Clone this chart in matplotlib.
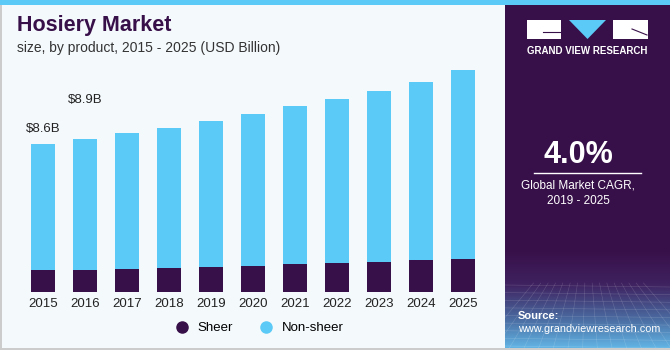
import matplotlib.pyplot as plt
import numpy as np
from matplotlib.patches import Rectangle, Polygon
from matplotlib.lines import Line2D
from matplotlib.colors import LinearSegmentedColormap

plt.rcParams['font.family'] = ['Liberation Sans', 'DejaVu Sans']

# data (USD billion)
years = ['2015', '2016', '2017', '2018', '2019', '2020',
         '2021', '2022', '2023', '2024', '2025']
sheer = [1.27, 1.30, 1.36, 1.41, 1.47, 1.53, 1.63, 1.70, 1.76, 1.84, 1.94]
non_sheer = [7.33, 7.58, 7.86, 8.14, 8.47, 8.82, 9.16, 9.54, 9.94, 10.37, 10.98]
bar_labels = {0: '$8.6B', 1: '$8.9B'}
label_gap = {0: 0.55, 1: 1.95}

purple = '#381049'
blue = '#5bcaf6'
bg = '#f4f9fc'

fig = plt.figure(figsize=(6.7, 3.5), dpi=100)
fig.patch.set_facecolor(bg)

# background layer in pixel coordinates
bgax = fig.add_axes([0, 0, 1, 1])
bgax.set_xlim(0, 670)
bgax.set_ylim(350, 0)
bgax.axis('off')

# borders
bgax.add_patch(Rectangle((0, 0), 1.5, 350, color='#cccccc', lw=0))
bgax.add_patch(Rectangle((0, 347.5), 670, 2.5, color='#cccccc', lw=0))
# top stripe
bgax.add_patch(Rectangle((0, 0), 670, 5, color=blue, lw=0))

# right panel
bgax.add_patch(Rectangle((505, 5), 165, 343, color=purple, lw=0))
grad = np.linspace(0, 1, 200).reshape(-1, 1)
cm = LinearSegmentedColormap.from_list(
    'g', [(0, purple), (0.35, '#3f2260'), (0.7, '#4a6aa0'), (1, '#62b4e4')])
bgax.imshow(grad, extent=(505, 670, 348, 250), cmap=cm, aspect='auto', zorder=1)
# faint perspective grid at the bottom
for yy in np.linspace(285, 346, 9):
    bgax.plot([505, 670], [yy, yy + 2], color='white', lw=0.4, alpha=0.18, zorder=1.5)
for xx in np.linspace(480, 700, 16):
    bgax.plot([587 + (xx - 587) * 0.5, xx], [283, 348], color='white', lw=0.4,
              alpha=0.18, zorder=1.5)
bgax.set_xlim(0, 670)
bgax.set_ylim(350, 0)

# logo
bgax.add_patch(Rectangle((527, 20), 34, 19, color='white', lw=0, zorder=2))
bgax.add_patch(Polygon([(569, 20), (606, 20), (587.5, 39)], color=blue, lw=0, zorder=2))
bgax.add_patch(Rectangle((613, 20), 35, 19, color='white', lw=0, zorder=2))
bgax.plot([543, 561], [32, 32], color=purple, lw=0.8, zorder=3)
bgax.plot([632, 647], [29, 35], color=purple, lw=0.8, zorder=3)
bgax.text(587.5, 51, 'GRAND VIEW RESEARCH', color='white', fontsize=7,
          fontweight='bold', ha='center', va='center', zorder=3)

bgax.text(578, 155, '4.0%', color='white', fontsize=22, fontweight='bold',
          ha='center', va='center', zorder=3)
bgax.plot([534, 641], [173, 173], color='white', lw=1, zorder=3)
bgax.text(578, 186, 'Global Market CAGR,', color='white', fontsize=8.5,
          ha='center', va='center', zorder=3)
bgax.text(578, 201, '2019 - 2025', color='white', fontsize=8.5,
          ha='center', va='center', zorder=3)
bgax.text(518, 316, 'Source:', color='white', fontsize=8, fontweight='bold',
          ha='left', va='center', zorder=3)
bgax.text(518, 329, 'www.grandviewresearch.com', color='white', fontsize=7.8,
          ha='left', va='center', zorder=3)

# title
bgax.text(17, 26, 'Hosiery Market', color=purple, fontsize=15.5, fontweight='bold',
          ha='left', va='center')
bgax.text(17, 48, 'size, by product, 2015 - 2025 (USD Billion)', color='#333333',
          fontsize=10, ha='left', va='center')

# chart
ax = fig.add_axes([22 / 670, 58 / 350, 462 / 670, 232 / 350])
ax.set_facecolor('none')
x = np.arange(len(years))
ax.bar(x, sheer, width=0.57, color=purple, zorder=2)
ax.bar(x, non_sheer, width=0.57, bottom=sheer, color=blue, zorder=2)
for i, lab in bar_labels.items():
    ax.text(x[i], sheer[i] + non_sheer[i] + label_gap[i], lab, ha='center',
            va='bottom', fontsize=9.5, color='#222222')
ax.set_xlim(-0.5, len(years) - 0.5)
ax.set_ylim(0, 232 / 17.2)
ax.set_xticks(x)
ax.set_xticklabels(years, fontsize=9.5, color='#222222')
ax.tick_params(axis='x', length=0, pad=4)
ax.set_yticks([])
for s in ax.spines.values():
    s.set_visible(False)

handles = [Line2D([], [], marker='o', ls='', color=purple, markersize=8),
           Line2D([], [], marker='o', ls='', color=blue, markersize=8)]
fig.legend(handles, ['Sheer', 'Non-sheer'], loc='center',
           bbox_to_anchor=(256 / 670, 1 - 328 / 350), ncol=2, frameon=False,
           fontsize=9.5, handletextpad=0.2, columnspacing=1.5)

fig.savefig('out.png', dpi=100, facecolor=bg)
